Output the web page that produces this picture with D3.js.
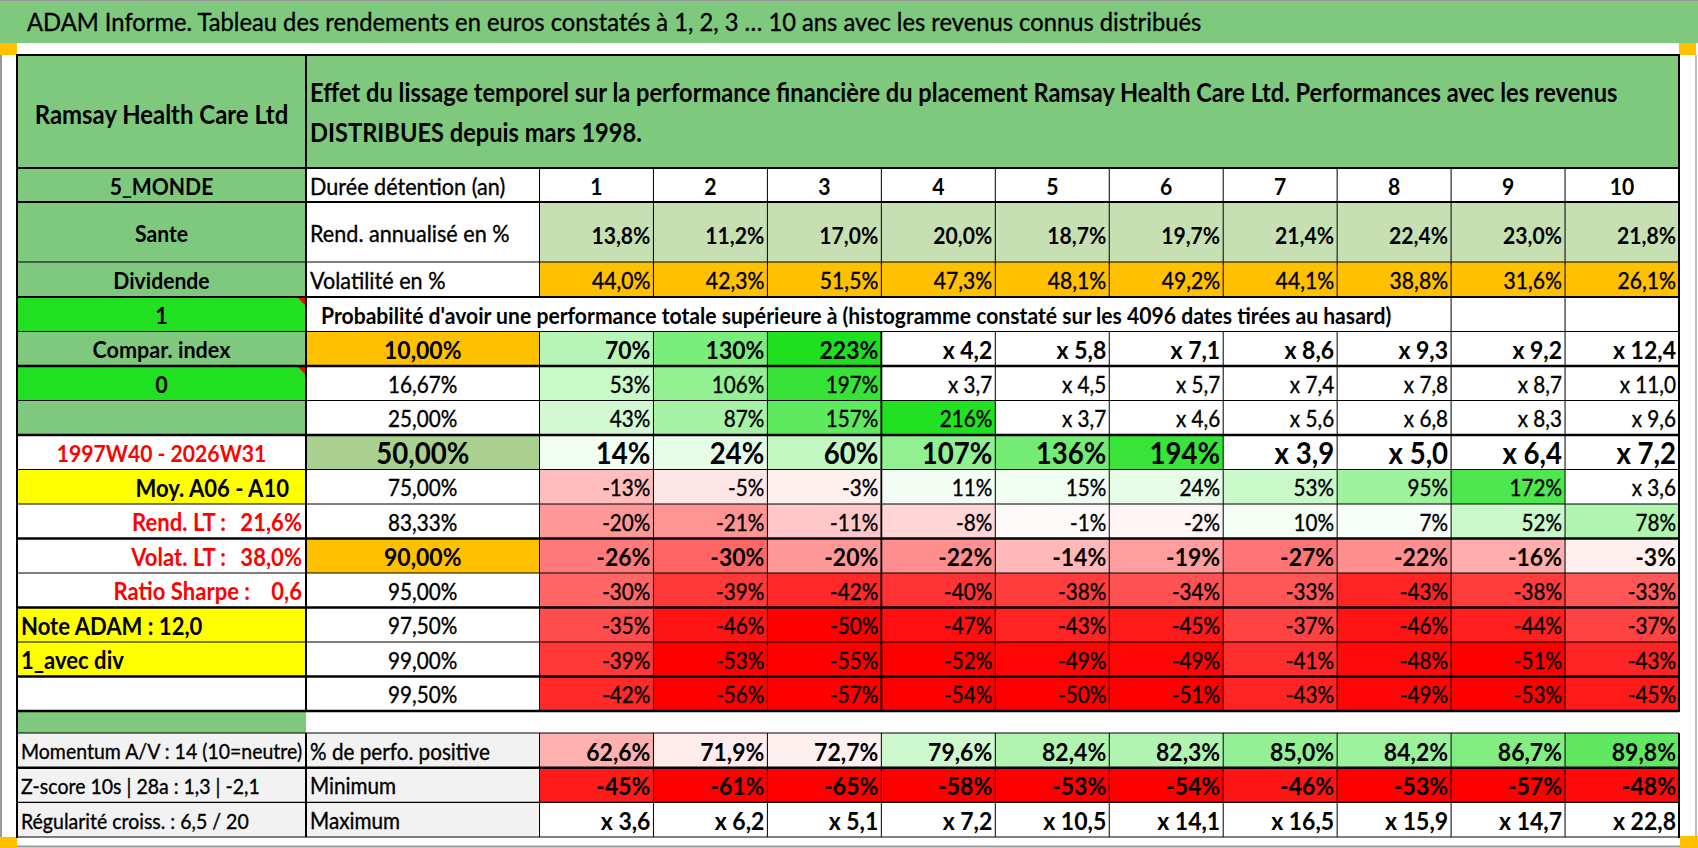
<!DOCTYPE html>
<html><head><meta charset="utf-8">
<script src="https://cdn.jsdelivr.net/npm/d3@7"></script>
<style>html,body{margin:0;padding:0;background:#fff;overflow:hidden}</style>
</head><body>
<svg id="c" width="1698" height="848"></svg>
<script>
// ---------- DATA ----------
const title = "ADAM Informe. Tableau des rendements en euros constatés à 1, 2, 3 … 10 ans avec les revenus connus distribués";
const assetName = "Ramsay Health Care Ltd";
const headerLines = ["Effet du lissage temporel sur la performance financière du placement Ramsay Health Care Ltd. Performances avec les revenus",
                     "DISTRIBUES depuis mars 1998."];
const years = [1, 2, 3, 4, 5, 6, 7, 8, 9, 10];
const rendAnnualise = [13.8, 11.2, 17.0, 20.0, 18.7, 19.7, 21.4, 22.4, 23.0, 21.8];
const volatilite = [44.0, 42.3, 51.5, 47.3, 48.1, 49.2, 44.1, 38.8, 31.6, 26.1];
const probTitle = "Probabilité d'avoir une performance totale supérieure à (histogramme constaté sur les 4096 dates tirées au hasard)";
const quantiles = [10, 16.67, 25, 50, 75, 83.33, 90, 95, 97.5, 99, 99.5];
// performance in % ; strings are multiples displayed as such
const perf = [
  [70, 130, 223, "x 4,2", "x 5,8", "x 7,1", "x 8,6", "x 9,3", "x 9,2", "x 12,4"],
  [53, 106, 197, "x 3,7", "x 4,5", "x 5,7", "x 7,4", "x 7,8", "x 8,7", "x 11,0"],
  [43, 87, 157, 216, "x 3,7", "x 4,6", "x 5,6", "x 6,8", "x 8,3", "x 9,6"],
  [14, 24, 60, 107, 136, 194, "x 3,9", "x 5,0", "x 6,4", "x 7,2"],
  [-13, -5, -3, 11, 15, 24, 53, 95, 172, "x 3,6"],
  [-20, -21, -11, -8, -1, -2, 10, 7, 52, 78],
  [-26, -30, -20, -22, -14, -19, -27, -22, -16, -3],
  [-30, -39, -42, -40, -38, -34, -33, -43, -38, -33],
  [-35, -46, -50, -47, -43, -45, -37, -46, -44, -37],
  [-39, -53, -55, -52, -49, -49, -41, -48, -51, -43],
  [-42, -56, -57, -54, -50, -51, -43, -49, -53, -45]
];
const pctPositive = [62.6, 71.9, 72.7, 79.6, 82.4, 82.3, 85.0, 84.2, 86.7, 89.8];
const minimum = [-45, -61, -65, -58, -53, -54, -46, -53, -57, -48];
const maximum = [3.6, 6.2, 5.1, 7.2, 10.5, 14.1, 16.5, 15.9, 14.7, 22.8];
const topLeftLabels = ["5_MONDE", "Sante", "Dividende"];
const topRowLabels = ["Durée détention (an)", "Rend. annualisé en %", "Volatilité en %"];
const leftLabels = ["1", "Compar. index", "0", "", "1997W40 - 2026W31", "Moy. A06 - A10",
                    "Rend. LT :", "Volat. LT :", "Ratio Sharpe :", "Note ADAM : 12,0", "1_avec div", ""];
const leftValues = ["", "", "", "", "", "", "21,6%", "38,0%", "0,6", "", "", ""];
const bottomLeft = ["Momentum A/V : 14 (10=neutre)", "Z-score 10s | 28a : 1,3 | -2,1", "Régularité croiss. : 6,5 / 20"];
const bottomLabels = ["% de perfo. positive", "Minimum", "Maximum"];

// ---------- STYLE / LAYOUT ----------
const SX = 0.92;
const FONT = "Lato, 'Open Sans', sans-serif";
const GREEN = "#7fc97f", LIME = "#22e022", ORANGE = "#ffc000", YELLOW = "#ffff00",
      LGREEN = "#c6e0b4", MGREEN = "#a9d08e", GRAY = "#f2f2f2", RED = "#ff0000";
const L = 17, C1 = 306, C2 = 539.5, R = 1679;
const fr = d3.formatLocale({decimal: ",", thousands: "\u00a0", grouping: [3], currency: ["", "€"]});
const f1 = fr.format(".1f"), f2 = fr.format(".2f");

const svg = d3.select("#c");
const x = d3.scaleBand().domain(years).range([C2, R]);
const yTop = d3.scaleOrdinal().domain(["head", "dur", "rend", "vol"]).range([[55, 168], [168, 202], [202, 262], [262, 297]]);
const probKeys = ["prob", ...quantiles];
const yq = d3.scaleBand().domain(probKeys).range([297, 711]);
const yb = d3.scaleBand().domain(bottomLabels).range([733, 837]);

const neg = d3.scaleLinear().domain([-50, 0]).range([RED, "#ffffff"]).clamp(true);
const pos = d3.scaleLinear().domain([0, 220]).range(["#ffffff", "#1ee01e"]).clamp(true);
const posPct = d3.scaleLinear().domain([35, 75, 96]).range([RED, "#ffffff", "#1ee01e"]).clamp(true);
const cellColor = v => typeof v === "string" ? "#ffffff" : (v < 0 ? neg(v) : pos(v));

function T(x0, y0, s, o = {}) {
  const w = o.weight || 400;
  const fill = o.fill || "#000";
  return svg.append("text")
    .attr("transform", `translate(${x0},${y0}) scale(${o.sx ?? SX},1)`)
    .attr("text-anchor", o.anchor || "start")
    .attr("dy", o.dy || "0.37em")
    .style("font-family", FONT)
    .style("font-size", (o.size || 23) + "px")
    .style("font-weight", w)
    .style("white-space", "pre")
    .attr("fill", fill)
    .attr("stroke", w < 700 ? fill : "none")
    .attr("stroke-width", w < 700 ? 0.35 : 0)
    .text(s);
}
function rect(x0, y0, w, h, fill) {
  svg.append("rect").attr("x", x0).attr("y", y0).attr("width", w).attr("height", h).attr("fill", fill);
}
function hl(y0, x1, x2, w) {
  svg.append("line").attr("x1", x1).attr("x2", x2).attr("y1", y0).attr("y2", y0).attr("stroke", "#000").attr("stroke-width", w);
}
function vl(x0, y1, y2, w) {
  svg.append("line").attr("x1", x0).attr("x2", x0).attr("y1", y1).attr("y2", y2).attr("stroke", "#000").attr("stroke-width", w);
}

// ---------- FRAME ----------
rect(0, 0, 1698, 43, GREEN);
svg.append("line").attr("x1", 0).attr("x2", 1698).attr("y1", 0.5).attr("y2", 0.5).attr("stroke", "#9a9a9a");
svg.append("line").attr("x1", 1).attr("x2", 1).attr("y1", 43).attr("y2", 848).attr("stroke", "#9a9a9a").attr("stroke-width", 2);
svg.append("line").attr("x1", 1696).attr("x2", 1696).attr("y1", 55).attr("y2", 848).attr("stroke", "#bdbdbd").attr("stroke-width", 2);
svg.append("line").attr("x1", 0).attr("x2", 1698).attr("y1", 846.5).attr("y2", 846.5).attr("stroke", "#9a9a9a").attr("stroke-width", 2);
rect(0, 43, 17, 12, ORANGE); rect(R, 43, 17, 12, ORANGE);
rect(0, 837, 17, 11, ORANGE); rect(1680, 836, 18, 12, ORANGE);
T(27, 22, title, {size: 25, sx: 0.95});

// ---------- HEADER ----------
const [hy0, hy1] = yTop("head");
rect(L, hy0, C1 - L, hy1 - hy0, GREEN);
rect(C1, hy0, R - C1, hy1 - hy0, GREEN);
T((L + C1) / 2, (hy0 + hy1) / 2 + 3, assetName, {anchor: "middle", size: 26, weight: 700});
headerLines.forEach((s, i) => T(310, 92 + i * 40, s, {size: 25.7, weight: 700}));

// top rows
["dur", "rend", "vol"].forEach((k, i) => {
  const [a, b] = yTop(k);
  const m = (a + b) / 2 + 1;
  rect(L, a, C1 - L, b - a, GREEN);
  rect(C1, a, C2 - C1, b - a, "#fff");
  T((L + C1) / 2, m, topLeftLabels[i], {anchor: "middle", size: 23, weight: 700});
  T(310, m, topRowLabels[i], {size: 23.5});
  years.forEach((yr, j) => {
    if (k === "dur") {
      rect(x(yr), a, x.bandwidth(), b - a, "#fff");
      T(x(yr) + x.bandwidth() / 2, m, String(yr), {anchor: "middle", size: 23, weight: 700});
    } else if (k === "rend") {
      rect(x(yr), a, x.bandwidth(), b - a, LGREEN);
      T(x(yr) + x.bandwidth() - 3, m + 2, f1(rendAnnualise[j]) + "%", {anchor: "end", size: 23, weight: 700});
    } else {
      rect(x(yr), a, x.bandwidth(), b - a, ORANGE);
      T(x(yr) + x.bandwidth() - 3, m, f1(volatilite[j]) + "%", {anchor: "end", size: 23});
    }
  });
});

// ---------- PROBABILITY BLOCK ----------
const bh = yq.bandwidth();
const leftFill = [LIME, GREEN, LIME, GREEN, "#fff", YELLOW, "#fff", "#fff", "#fff", YELLOW, YELLOW, "#fff"];
probKeys.forEach((k, i) => {
  const a = yq(k), m = a + bh / 2 + 1;
  rect(L, a, C1 - L, bh, leftFill[i]);
  const lab = leftLabels[i];
  if (i <= 3) T((L + C1) / 2, m, lab, {anchor: "middle", size: 23.5, weight: 700});
  else if (i === 4) T((L + C1) / 2, m, lab, {anchor: "middle", size: 23, weight: 700, fill: RED});
  else if (i === 5) T(289, m, lab, {anchor: "end", size: 24, weight: 700});
  else if (i >= 6 && i <= 8) {
    T(i === 8 ? 250 : 226, m, lab, {anchor: "end", size: 24, weight: 700, fill: RED});
    T(302, m, leftValues[i], {anchor: "end", size: 24, weight: 700, fill: RED});
  } else if (i === 9 || i === 10) T(21, m, lab, {size: 24, weight: 700});
  if (i === 0 || i === 2) {
    svg.append("path").attr("d", d3.line()([[C1 - 8, a + 1], [C1 - 1, a + 1], [C1 - 1, a + 8]])).attr("fill", RED);
  }
});
// probability title row
rect(C1, yq("prob"), R - C1, bh, "#fff");
T(321, yq("prob") + bh / 2 + 1, probTitle, {size: 23, weight: 700});

// quantile column + cells
const cells = [];
quantiles.forEach((q, i) => perf[i].forEach((v, j) => cells.push({q, i, year: years[j], v})));
const boldQ = new Set([10, 50, 90]);
quantiles.forEach(q => {
  const a = yq(q), m = a + bh / 2 + 1;
  const fill = (q === 10 || q === 90) ? ORANGE : q === 50 ? MGREEN : "#fff";
  rect(C1, a, C2 - C1, bh, fill);
  T((C1 + C2) / 2, m, f2(q) + "%", {anchor: "middle", size: q === 50 ? 30 : boldQ.has(q) ? 25 : 22.5, weight: boldQ.has(q) ? 700 : 400});
});
svg.append("g").selectAll("rect").data(cells).join("rect")
  .attr("x", d => x(d.year)).attr("y", d => yq(d.q))
  .attr("width", x.bandwidth()).attr("height", bh)
  .attr("fill", d => cellColor(d.v));
cells.forEach(d => {
  const size = d.q === 50 ? 30 : boldQ.has(d.q) ? 25 : 22.5;
  T(x(d.year) + x.bandwidth() - 3, yq(d.q) + bh / 2 + 1,
    typeof d.v === "string" ? d.v : d.v + "%",
    {anchor: "end", size, weight: boldQ.has(d.q) ? 700 : 400});
});

// gap row
rect(L, 711, C1 - L, 733 - 711, GREEN);

// ---------- BOTTOM BLOCK ----------
const bbh = yb.bandwidth();
bottomLabels.forEach((lab, i) => {
  const a = yb(lab), m = a + bbh / 2 + 1;
  rect(L, a, C1 - L, bbh, GRAY);
  rect(C1, a, C2 - C1, bbh, GRAY);
  T(21, m, bottomLeft[i], {size: 21.2});
  T(310, m, lab, {size: 22.5});
  years.forEach((yr, j) => {
    let fill, s;
    if (i === 0) { fill = posPct(pctPositive[j]); s = f1(pctPositive[j]) + "%"; }
    else if (i === 1) { fill = neg(minimum[j]); s = minimum[j] + "%"; }
    else { fill = "#fff"; s = "x " + f1(maximum[j]); }
    rect(x(yr), a, x.bandwidth(), bbh, fill);
    T(x(yr) + x.bandwidth() - 3, m, s, {anchor: "end", size: 25, weight: 700});
  });
});

// ---------- GRID LINES ----------
hl(55, L - 1, R + 1, 2); hl(168, L, R, 2); hl(202, L, R, 2); hl(262, L, R, 1); hl(297, L, R, 2);
const thickAfter = new Set([10, 25, 83.33, 95, 99, 99.5]);
probKeys.forEach(k => hl(yq(k) + bh, L, R, thickAfter.has(k) ? 2.5 : 1));
hl(733, L, R, 1.2);
bottomLabels.forEach((lab, i) => hl(yb(lab) + bbh, L, R, i === 0 ? 2.5 : 1.2));
vl(L, 55, 838, 2); vl(R, 55, 712, 2); vl(R, 733, 838, 2);
vl(C1, 55, 711, 2); vl(C1, 733, 837, 2);
vl(C2, 168, 297, 1); vl(C2, 332, 711, 1); vl(C2, 733, 837, 1);
years.slice(1).forEach(yr => {
  const xx = x(yr);
  vl(xx, 168, 297, 1);
  if (yr >= 9) vl(xx, 297, 332, 1);
  vl(xx, 332, 711, yr === 4 ? 1.8 : 1);
  vl(xx, 733, 837, 1);
});
</script>
</body></html>
